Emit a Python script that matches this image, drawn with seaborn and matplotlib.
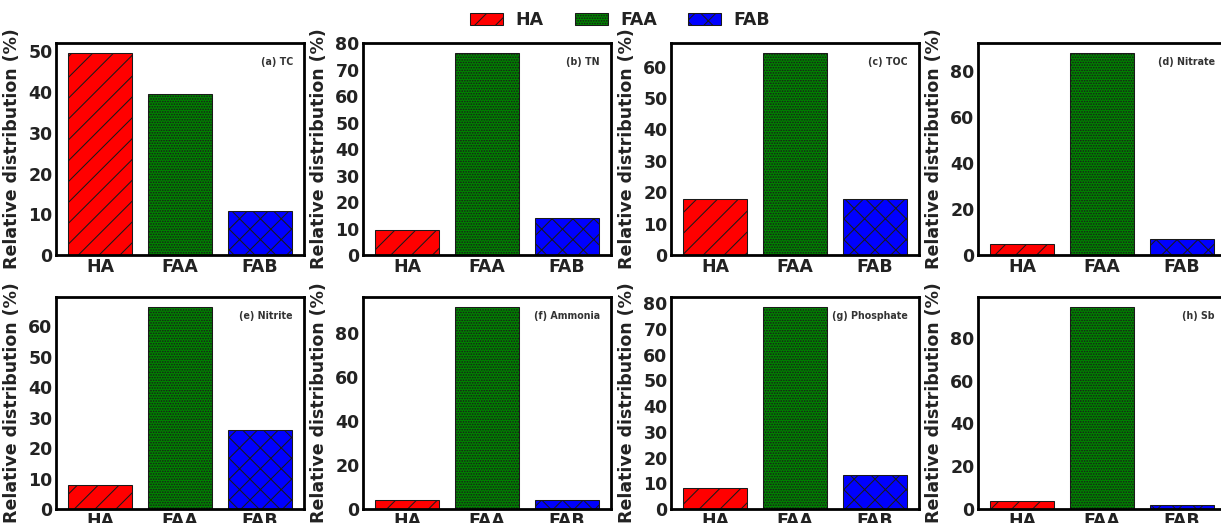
import numpy as np
import pandas as pd
import matplotlib
matplotlib.use("Agg")
import matplotlib.pyplot as plt
from matplotlib.patches import Patch
import seaborn as sns

# Fractions and their relative distribution (%) for each parameter
fractions = ["HA", "FAA", "FAB"]
panel_titles = ["(a) TC", "(b) TN", "(c) TOC", "(d) Nitrate",
                "(e) Nitrite", "(f) Ammonia", "(g) Phosphate", "(h) Sb"]
tc = [49.6, 39.6, 10.8]
tn = [9.6, 76.3, 14.1]
toc = [17.9, 64.3, 17.8]
nitrate = [5.0, 87.9, 7.1]
nitrite = [8.0, 66.2, 25.8]
ammonia = [4.1, 91.8, 4.1]
phosphate = [8.3, 78.5, 13.2]
sb = [3.8, 94.4, 1.8]
panel_values = [tc, tn, toc, nitrate, nitrite, ammonia, phosphate, sb]
tick_steps = [10, 10, 10, 20, 10, 20, 10, 20]

colors = {"HA": "#ff0000", "FAA": "#008000", "FAB": "#0000ff"}
hatches = {"HA": "//", "FAA": "........", "FAB": "xx"}

sns.set_style("white")
plt.rcParams["font.family"] = ["DejaVu Sans"]
plt.rcParams["font.weight"] = "bold"
plt.rcParams["hatch.linewidth"] = 0.6
plt.rcParams["hatch.color"] = "black"

DPI = 125
W, H = 1221, 523
fig = plt.figure(figsize=(W / DPI, H / DPI), dpi=DPI)

lefts = [56, 363, 671, 978]
rows = [(43, 255), (297, 509)]
axes = []
for top, bottom in rows:
    for left in lefts:
        axes.append(fig.add_axes([left / W, 1 - bottom / H, 248 / W, (bottom - top) / H]))

text_color = "#222222"
bar_edge = "#1a1a1a"
for ax, title, vals, step in zip(axes, panel_titles, panel_values, tick_steps):
    df = pd.DataFrame({"Fraction": fractions, "Value": vals})
    sns.barplot(data=df, x="Fraction", y="Value", hue="Fraction",
                order=fractions, hue_order=fractions, palette=colors,
                saturation=1, width=0.8, legend=False,
                edgecolor=bar_edge, linewidth=0.6, ax=ax)
    for patch, frac in zip(ax.patches, fractions):
        patch.set_hatch(hatches[frac])
    top = max(vals) * 1.05
    ax.set_xlim(-0.55, 2.55)
    ax.set_ylim(0, top)
    ax.set_yticks(np.arange(0, top, step))
    ax.set_xlabel("")
    ax.set_ylabel("Relative distribution (%)", fontsize=10, fontweight="bold",
                  color=text_color, labelpad=4)
    ax.tick_params(axis="both", length=0, labelsize=10, labelcolor=text_color, pad=2)
    for lab in ax.get_xticklabels() + ax.get_yticklabels():
        lab.set_fontweight("bold")
    for sp in ax.spines.values():
        sp.set_linewidth(1.6)
        sp.set_color("black")
    ax.text(0.955, 0.91, title, transform=ax.transAxes, ha="right", va="center",
            fontsize=5.5, fontweight="bold", color="#333333", zorder=0.5)

handles = [Patch(facecolor=colors[f], edgecolor=bar_edge, hatch=hatches[f], linewidth=0.6)
           for f in fractions]
fig.legend(handles, fractions, loc="center", bbox_to_anchor=(620 / W, 1 - 20 / H),
           ncol=3, frameon=False, prop={"weight": "bold", "size": 10},
           handlelength=1.9, handleheight=0.75, columnspacing=1.8, handletextpad=0.7,
           labelcolor=text_color)

fig.savefig("out.png", dpi=DPI)
